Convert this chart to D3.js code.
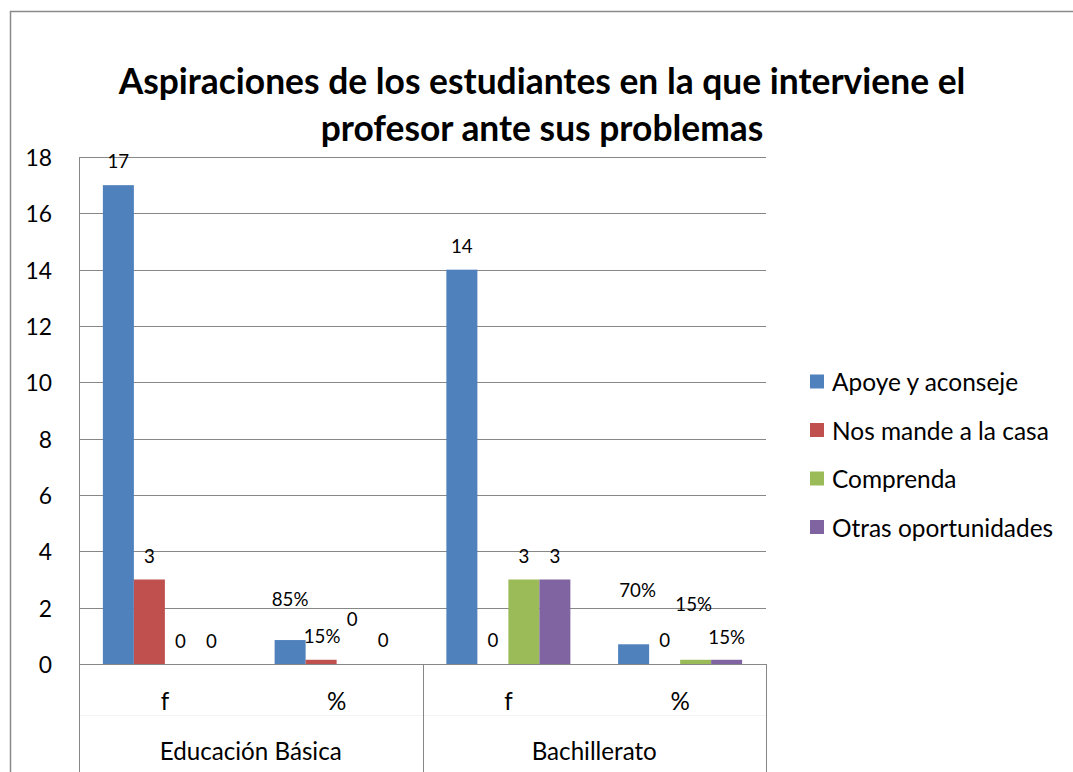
<!DOCTYPE html>
<html>
<head>
<meta charset="utf-8">
<script src="https://cdn.jsdelivr.net/npm/d3@7"></script>
<style>
  html, body { margin: 0; padding: 0; background: #fff; }
  svg { display: block; }
  text { font-family: Lato, "Open Sans", sans-serif; fill: #000; }
</style>
</head>
<body>
<svg id="chart" width="1073" height="772"></svg>
<script>
// Two-level category axis: school level / measure (frequency or share)
const groups = ["Educación Básica", "Bachillerato"];
const measures = ["f", "%"];
const series = ["Apoye y aconseje", "Nos mande a la casa", "Comprenda", "Otras oportunidades"];

// Values per category: [EB f, EB %, Bach f, Bach %]; shares as fractions
const apoye     = [17, 0.85, 14, 0.70];
const nosMande  = [3, 0.15, 0, 0];
const comprenda = [0, 0, 3, 0.15];
const otras     = [0, 0, 3, 0.15];

const yTicks = [0, 2, 4, 6, 8, 10, 12, 14, 16, 18];
const titleLines = ["Aspiraciones de los estudiantes en la que interviene el", "profesor ante sus problemas"];

const colors = ["#4F81BD", "#C0504D", "#9BBB59", "#8064A2"];

// Label placement above each bar top (px), per category then series
const labelLift = [
  [24, 24, 23, 23],
  [41, 24, 45, 24],
  [24, 24, 24, 24],
  [54, 24, 56, 23]
];
const labelShift = [
  [0, 0, 0, 0],
  [0, 1, 0, 0],
  [0, 0, 0, 0],
  [4, 0, -2, 0]
];

const values = [apoye, nosMande, comprenda, otras];
const categories = [];
groups.forEach((g, gi) => measures.forEach((m, mi) => categories.push({ key: gi + "-" + mi, group: g, measure: m, idx: gi * measures.length + mi })));

const svg = d3.select("#chart");
const plot = { left: 79, right: 766, top: 157, bottom: 664 };
const axisBottom = 772;
const gridColor = "#878787";

// Outer chart frame
svg.append("rect")
  .attr("x", 10.5).attr("y", 11.5).attr("width", 1100).attr("height", 800)
  .attr("fill", "none").attr("stroke", "#8a8a8a").attr("stroke-width", 1.5);

// Font size that makes a probe text span a given width
function fit(sel, target) {
  const w = sel.node().getComputedTextLength();
  const fs = parseFloat(sel.attr("font-size"));
  return fs * target / w;
}

const x = d3.scaleBand().domain(categories.map(c => c.key)).range([plot.left, plot.right]);
const xs = d3.scaleBand().domain(series).range([0, x.bandwidth()]).paddingOuter(0.77);
const y = d3.scaleLinear().domain([0, 18]).range([plot.bottom, plot.top]);

// Gridlines
svg.append("g").selectAll("line").data(yTicks).join("line")
  .attr("x1", plot.left).attr("x2", plot.right)
  .attr("y1", d => Math.round(y(d)) + 0.5).attr("y2", d => Math.round(y(d)) + 0.5)
  .attr("stroke", gridColor).attr("stroke-width", 1);

// Value axis line
svg.append("line")
  .attr("x1", plot.left + 0.5).attr("x2", plot.left + 0.5)
  .attr("y1", plot.top).attr("y2", plot.bottom)
  .attr("stroke", gridColor);

// Value axis labels
const tickProbe = svg.append("text").attr("font-size", 100).text("18");
const tickSize = fit(tickProbe, 26.5);
tickProbe.remove();
svg.append("g").selectAll("text").data(yTicks).join("text")
  .attr("x", 52).attr("y", d => y(d))
  .attr("text-anchor", "end").attr("dominant-baseline", "central")
  .attr("font-size", tickSize)
  .text(d => d);

// Bars
const barG = svg.append("g");
series.forEach((s, si) => {
  barG.append("g").selectAll("rect").data(categories).join("rect")
    .attr("x", c => x(c.key) + xs(s))
    .attr("y", c => y(values[si][c.idx]))
    .attr("width", xs.bandwidth())
    .attr("height", c => y(0) - y(values[si][c.idx]))
    .attr("fill", colors[si]);
});

// Data labels
const fmtPct = d3.format(".0%");
const lblProbe = svg.append("text").attr("font-size", 100).text("85%");
const lblSize = fit(lblProbe, 36.7);
lblProbe.remove();
const labelG = svg.append("g");
series.forEach((s, si) => {
  labelG.append("g").selectAll("text").data(categories).join("text")
    .attr("x", c => x(c.key) + xs(s) + xs.bandwidth() / 2 + labelShift[c.idx][si])
    .attr("y", c => y(values[si][c.idx]) - labelLift[c.idx][si])
    .attr("text-anchor", "middle").attr("dominant-baseline", "central")
    .attr("font-size", lblSize)
    .text(c => {
      const v = values[si][c.idx];
      if (c.measure === "%" && v !== 0) return fmtPct(v);
      return v;
    });
});

// Category axis line
svg.append("line")
  .attr("x1", plot.left).attr("x2", plot.right)
  .attr("y1", plot.bottom + 0.5).attr("y2", plot.bottom + 0.5)
  .attr("stroke", gridColor);

// Faint divider between axis levels
svg.append("line")
  .attr("x1", plot.left).attr("x2", plot.right)
  .attr("y1", 715.5).attr("y2", 715.5)
  .attr("stroke", "#f4f4f4");

// Group separators
const sepX = [plot.left, x(categories[2].key), plot.right];
svg.append("g").selectAll("line").data(sepX).join("line")
  .attr("x1", d => Math.round(d) + 0.5).attr("x2", d => Math.round(d) + 0.5)
  .attr("y1", plot.bottom).attr("y2", axisBottom)
  .attr("stroke", gridColor);

// Category labels
const catProbe = svg.append("text").attr("font-size", 100).text("Educación Básica");
const catSize = fit(catProbe, 182);
catProbe.remove();
svg.append("g").selectAll("text").data(categories).join("text")
  .attr("x", c => x(c.key) + x.bandwidth() / 2)
  .attr("y", 700)
  .attr("text-anchor", "middle").attr("dominant-baseline", "central")
  .attr("font-size", catSize)
  .text(c => c.measure);
svg.append("g").selectAll("text").data(groups).join("text")
  .attr("x", (g, gi) => x(gi + "-0") + x.bandwidth())
  .attr("y", 750)
  .attr("text-anchor", "middle").attr("dominant-baseline", "central")
  .attr("font-size", catSize)
  .text(g => g);

// Legend
const legProbe = svg.append("text").attr("font-size", 100).text("Nos mande a la casa");
const legSize = fit(legProbe, 217);
legProbe.remove();
const leg = svg.append("g").selectAll("g").data(series).join("g")
  .attr("transform", (d, i) => `translate(810, ${381.5 + i * 48.5})`);
leg.append("rect").attr("x", 0).attr("y", -7).attr("width", 14).attr("height", 14)
  .attr("fill", (d, i) => colors[i]);
leg.append("text").attr("x", 22).attr("y", 0)
  .attr("dominant-baseline", "central")
  .attr("font-size", legSize)
  .text(d => d);

// Title
const tProbe = svg.append("text").attr("font-size", 100).attr("font-weight", "bold").text(titleLines[0]);
const titleSize = fit(tProbe, 847);
tProbe.remove();
svg.append("g").selectAll("text").data(titleLines).join("text")
  .attr("x", 542).attr("y", (d, i) => 80 + i * 47)
  .attr("text-anchor", "middle").attr("dominant-baseline", "central")
  .attr("font-size", titleSize).attr("font-weight", "bold")
  .text(d => d);
</script>
</body>
</html>
